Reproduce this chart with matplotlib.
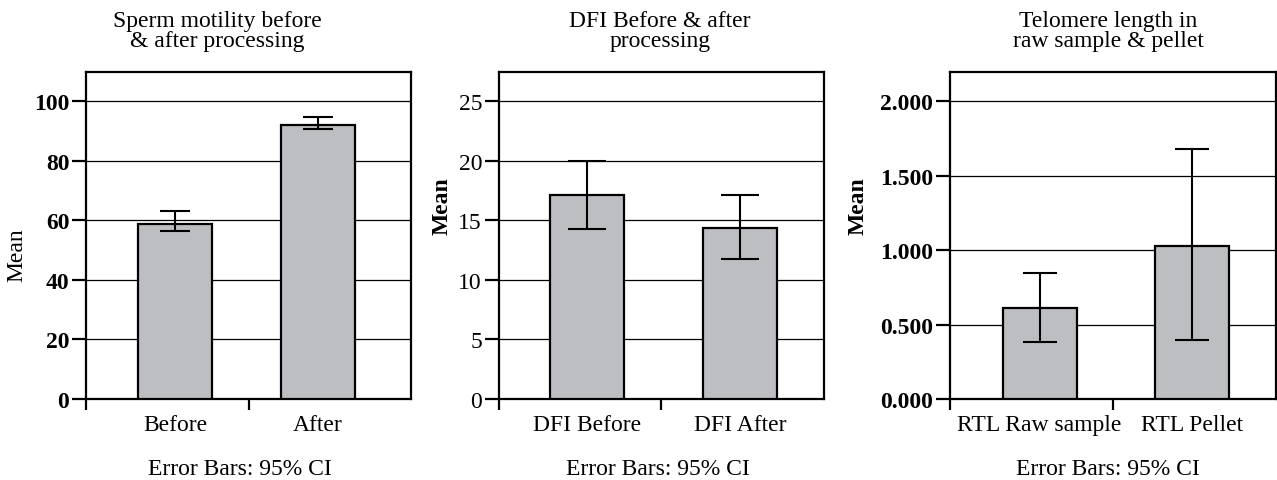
import matplotlib
matplotlib.use("Agg")
import matplotlib.pyplot as plt
import numpy as np

plt.rcParams["font.family"] = ["Liberation Serif", "DejaVu Serif"]

# panel 1: sperm motility
motility_cats = ["Before", "After"]
motility_mean = [58.8, 92.1]
motility_lo = [56.6, 90.9]
motility_hi = [63.1, 94.7]
motility_ticks = [0, 20, 40, 60, 80, 100]
motility_ticklabels = ["0", "20", "40", "60", "80", "100"]

# panel 2: DFI
dfi_cats = ["DFI Before", "DFI After"]
dfi_mean = [17.1, 14.4]
dfi_lo = [14.3, 11.8]
dfi_hi = [20.0, 17.1]
dfi_ticks = [0, 5, 10, 15, 20, 25]
dfi_ticklabels = ["0", "5", "10", "15", "20", "25"]

# panel 3: relative telomere length
rtl_cats = ["RTL Raw sample", "RTL Pellet"]
rtl_mean = [0.61, 1.027]
rtl_lo = [0.386, 0.397]
rtl_hi = [0.846, 1.68]
rtl_ticks = [0.0, 0.5, 1.0, 1.5, 2.0]
rtl_ticklabels = ["0.000", "0.500", "1.000", "1.500", "2.000"]

titles = [("Sperm motility before", "& after processing"),
          ("DFI Before & after", "processing"),
          ("Telomere length in", "raw sample & pellet")]
footer = "Error Bars: 95% CI"

W, H = 1277, 481
BAR_COLOR = "#bdbec2"
FS = 17


def px(x, y):
    return x / W, 1 - y / H


def draw_panel(rect, cats, mean, lo, hi, ticks, ticklabels, ymax, capsize, tick_bold, xpos):
    ax = fig.add_axes(rect)
    mean = np.asarray(mean)
    yerr = np.vstack([mean - np.asarray(lo), np.asarray(hi) - mean])
    ax.bar(xpos, mean, width=0.455, color=BAR_COLOR, edgecolor="black", linewidth=1.6, zorder=3)
    ax.errorbar(xpos, mean, yerr=yerr, fmt="none", ecolor="black", elinewidth=1.5,
                capsize=capsize, capthick=1.5, zorder=4)
    ax.set_xlim(-0.5, len(cats) - 0.5)
    ax.set_ylim(0, ymax)
    for t in ticks[1:]:
        ax.axhline(t, color="black", linewidth=0.9, zorder=1)
    ax.set_yticks(ticks)
    ax.set_yticklabels(ticklabels, fontsize=FS, fontweight="bold" if tick_bold else "normal")
    ax.set_xticks(xpos)
    ax.set_xticklabels(cats, fontsize=FS)
    ax.set_xticks([i - 0.5 for i in range(len(cats))], minor=True)
    ax.tick_params(axis="x", which="major", length=0, pad=11)
    ax.tick_params(axis="x", which="minor", length=8, width=1.6, direction="out")
    ax.tick_params(axis="y", length=10, width=1.6, direction="out", pad=2)
    for s in ax.spines.values():
        s.set_linewidth(1.6)
    return ax


fig = plt.figure(figsize=(W / 100, H / 100), dpi=100)

axh = 0.6805
bot = 0.1684
draw_panel([86 / W, bot, 325 / W, axh], motility_cats, motility_mean, motility_lo, motility_hi,
           motility_ticks, motility_ticklabels, 110, 11, True, [0.048, 0.928])
draw_panel([498.7 / W, bot, 325.3 / W, axh], dfi_cats, dfi_mean, dfi_lo, dfi_hi,
           dfi_ticks, dfi_ticklabels, 27.5, 14, False, [0.045, 0.985])
draw_panel([950 / W, bot, 326 / W, axh], rtl_cats, rtl_mean, rtl_lo, rtl_hi,
           rtl_ticks, rtl_ticklabels, 2.2, 12.5, True, [0.05, 0.983])

title_x = [217, 660, 1108]
for (l1, l2), xc in zip(titles, title_x):
    fig.text(*px(xc, 27), l1, ha="center", va="baseline", fontsize=FS)
    fig.text(*px(xc, 47), l2, ha="center", va="baseline", fontsize=FS)

for xc in [240, 658, 1108]:
    fig.text(*px(xc, 475), footer, ha="center", va="baseline", fontsize=FS)

fig.text(*px(17, 255), "Mean", rotation=90, ha="center", va="center", fontsize=FS)
fig.text(*px(442, 206), "Mean", rotation=90, ha="center", va="center", fontsize=FS, fontweight="bold")
fig.text(*px(858, 206), "Mean", rotation=90, ha="center", va="center", fontsize=FS, fontweight="bold")

fig.savefig("out.png", dpi=100, facecolor="white")
